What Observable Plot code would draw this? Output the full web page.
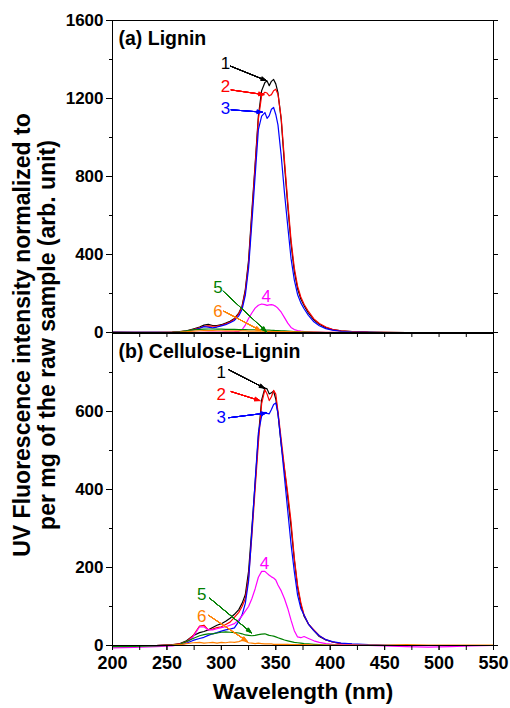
<!DOCTYPE html>
<html><head><meta charset="utf-8">
<script src="https://cdn.jsdelivr.net/npm/d3@7"></script>
<script src="https://cdn.jsdelivr.net/npm/@observablehq/plot@0.6"></script>
<style>
body{margin:0;background:white;}
#wrap{position:relative;width:510px;height:708px;overflow:hidden;background:white;font-family:Arial,"Liberation Sans",sans-serif;}
#wrap svg{position:absolute;left:0;}
#ylab{position:absolute;left:35px;top:335px;transform:translate(-50%,-50%) rotate(-90deg);white-space:nowrap;text-align:center;font-weight:bold;font-size:23px;line-height:25px;color:#000;}
</style></head>
<body><div id="wrap"><div id="ylab">UV Fluorescence intensity normalized to<br>per mg of the raw sample (arb. unit)</div></div>
<script>
// Wavelength grid (nm)
const wl = [200,220,240,255,262, 268,274,280,284,288, 292,296,300,304,308, 312,316,319,322,325,
            328,331,334,337,340, 342,344,346,348,350, 352,355,358,361,364, 367,370,373,376,380,
            385,390,396,402,410, 420,435,450,470,490, 510,530,550];

// (a) Lignin
const a1 = [2,1,1,2,5, 8,18,28,38,42, 36,36,40,48,58, 72,100,135,220,370,
            620,860,1110,1240,1282, 1290,1266,1288,1298,1275, 1230,1090,860,650,455, 315,225,172,138,100,
            65,42,25,15,8, 4,2,1,0,0, 0,0,0];
const a2 = [1,1,1,2,4, 7,15,24,32,34, 32,33,37,44,54, 68,96,130,210,355,
            600,850,1095,1215,1232, 1228,1214,1220,1240,1248, 1222,1100,880,670,475, 332,238,182,145,108,
            70,46,28,16,9, 5,2,1,0,0, 0,0,0];
const a3 = [1,1,1,1,3, 6,13,22,30,28, 24,28,34,40,50, 62,85,118,190,330,
            560,800,1040,1110,1128, 1098,1112,1145,1154,1118, 1065,905,715,545,380, 270,195,152,122,88,
            55,35,20,12,6, 3,1,0,0,0, 0,0,0];
const a4 = [0,0,0,0,0, 0,1,1,1,2, 2,2,2,3,3, 4,6,14,38,72,
            100,125,140,146,143, 139,142,143,140,134, 124,104,76,48,26, 15,10,7,5,4,
            3,2,1,1,0, 0,0,0,0,0, 0,0,0];
const a5 = [0,0,0,1,3, 8,13,16,17,18, 18,17,17,16,16, 16,15,15,15,14,
            14,14,13,13,12, 12,12,11,11,10, 10,9,8,7,6, 5,4,3,3,2,
            1,1,0,0,0, 0,0,0,0,0, 0,0,0];
const a6 = [0,0,0,1,2, 4,7,9,10,10, 10,9,9,8,8, 8,8,8,8,7,
            7,7,7,7,6, 6,6,6,5,5, 5,5,4,4,4, 3,3,3,2,2,
            2,1,1,1,1, 1,0,0,0,0, 0,0,0];

// (b) Cellulose-Lignin
const b1 = [0,0,0,2,5, 12,25,33,36,40, 46,52,56,62,70, 80,92,108,130,190,
            300,415,535,630,660, 658,645,648,652,632, 595,515,450,380,305, 220,150,105,75,55,
            38,23,14,9,5, 3,1,0,0,0, 0,0,0];
const b2 = [0,0,0,2,4, 10,25,50,52,40, 42,46,48,54,60, 72,85,100,120,175,
            280,400,520,620,656, 645,628,638,654,645, 600,528,455,390,318, 225,155,110,78,55,
            40,25,15,9,5, 3,1,0,0,0, 0,0,0];
const b3 = [0,0,0,1,2, 6,13,18,21,26, 30,33,37,40,42, 45,62,78,108,165,
            290,420,545,588,598, 595,594,605,618,622, 595,515,430,345,260, 190,130,95,78,55,
            38,25,15,10,6, 4,2,1,0,0, 0,0,0];
const b4 = [-6,-5,-3,-1,3, 8,22,48,48,40, 40,43,46,48,52, 56,66,76,88,100,
            120,145,175,190,190, 185,180,176,173,168, 155,140,120,95,65, 38,22,20,23,18,
            12,8,5,3,2, 1,0,-1,-3,-4, -3,-1,0];
const b5 = [-3,-2,-1,1,3, 10,18,25,28,30, 30,32,34,35,34, 33,32,30,27,26,
            25,26,28,29,30, 28,26,25,24,22, 20,17,14,12,10, 8,7,6,5,4,
            3,2,1,1,0, 0,0,0,0,0, 0,0,0];
const b6 = [0,0,0,1,2, 5,7,8,6,7, 8,6,8,7,9, 8,10,13,11,7,
            6,5,6,5,4, 4,4,4,3,3, 3,3,3,3,2, 2,2,2,2,2,
            1,1,1,1,1, 1,1,1,2,1, 1,1,1];

const seriesColors = ["#000000","#ff0000","#0000ff","#ff00ff","#008000","#ff8000"];
const annLabels = ["1","2","3","4","5","6"];

// Annotations (data units): text position and arrow start/end
const annA_tx = [303.8,303.8,303.8,341.2,296.8,296.8];
const annA_ty = [1380,1262,1147,185,229,109];
const annA_x1 = [308.4,309,309,null,301.7,302.3];
const annA_y1 = [1366,1244,1142,null,212,109];
const annA_x2 = [341.2,339,337.5,null,341.2,336];
const annA_y2 = [1292,1220,1130,null,5,10];

const annB_tx = [299.8,299.8,299.8,339.6,282,282];
const annB_ty = [701,644,584,211,131,74];
const annB_x1 = [306.8,309,306.8,null,289.4,288.5];
const annB_y1 = [707,651,584,null,121,77];
const annB_x2 = [339.6,335.3,341.2,null,327.5,323.7];
const annB_y2 = [660,628,596,null,33,11];

const xMajor = [200,250,300,350,400,450,500,550];
const xMinor = d3.range(200, 551, 25);
const yMajorA = [0,400,800,1200,1600];
const yMinorA = [200,600,1000,1400];
const yMajorB = [0,200,400,600];
const yMinorB = [100,300,500,700];

function annRows(tx, ty, x1, y1, x2, y2) {
  return annLabels.map((label, i) => ({label, color: seriesColors[i], tx: tx[i], ty: ty[i], x1: x1[i], y1: y1[i], x2: x2[i], y2: y2[i]}));
}

function panel(opts) {
  const {series, yDomain, yMajor, yMinor, ann, title, height, marginBottom, showX} = opts;
  const marks = [];
  series.forEach((vals, i) => {
    marks.push(Plot.line(vals.map((v, j) => ({wl: wl[j], v})), {x: "wl", y: "v", stroke: seriesColors[i], strokeWidth: 1.2}));
  });
  marks.push(Plot.frame({stroke: "black", strokeWidth: 1}));
  marks.push(Plot.axisY({ticks: yMajor, tickSize: 6, tickPadding: 3, tickFormat: d3.format("d"), fontSize: 17, fontWeight: "bold", label: null}));
  marks.push(Plot.axisY({ticks: yMinor, tickSize: 3, tickFormat: () => "", label: null}));
  marks.push(Plot.axisY({ticks: yMajor.concat(yMinor), anchor: "right", tickSize: 4, tickFormat: () => "", label: null}));
  marks.push(Plot.axisX({ticks: xMinor, tickSize: 5, tickFormat: () => "", label: null}));
  if (showX) {
    marks.push(Plot.axisX({ticks: xMajor, tickSize: 5, tickPadding: 6, tickFormat: d3.format("d"), fontSize: 18, fontWeight: "bold", label: null}));
    marks.push(Plot.text(["Wavelength (nm)"], {text: d => d, frameAnchor: "bottom", dy: 53, lineAnchor: "bottom", fontSize: 22.5, fontWeight: "bold"}));
  }
  const arrows = ann.filter(d => d.x1 != null);
  // layered heads give a filled arrowhead
  [42, 34, 26, 18, 10, 3].forEach((angle) => {
    marks.push(Plot.arrow(arrows, {x1: "x1", y1: "y1", x2: "x2", y2: "y2", stroke: "color", strokeWidth: 1, headLength: 8, headAngle: angle}));
  });
  marks.push(Plot.text(ann, {x: "tx", y: "ty", text: "label", fill: "color", fontSize: 17, fontWeight: "normal", textAnchor: "middle", lineAnchor: "middle"}));
  marks.push(Plot.text([title], {text: d => d, frameAnchor: "top-left", dx: 6, dy: 11, lineAnchor: "top", textAnchor: "start", fontSize: 19.5, fontWeight: "bold"}));
  return Plot.plot({
    width: 510, height, marginLeft: 112, marginRight: 17, marginTop: 20, marginBottom,
    x: {domain: [200, 550], label: null},
    y: {domain: yDomain, label: null},
    color: {type: "identity"},
    style: {fontFamily: "Arial, 'Liberation Sans', sans-serif", color: "black", background: "none", overflow: "visible"},
    marks
  });
}

const wrap = document.getElementById("wrap");
const bottomPlot = panel({series: [b1,b2,b3,b4,b5,b6], yDomain: [0, 800], yMajor: yMajorB, yMinor: yMinorB,
  ann: annRows(annB_tx, annB_ty, annB_x1, annB_y1, annB_x2, annB_y2), title: "(b) Cellulose-Lignin", height: 395, marginBottom: 63, showX: true});
bottomPlot.style.top = "313px";
wrap.appendChild(bottomPlot);
const topPlot = panel({series: [a1,a2,a3,a4,a5,a6], yDomain: [0, 1600], yMajor: yMajorA, yMinor: yMinorA,
  ann: annRows(annA_tx, annA_ty, annA_x1, annA_y1, annA_x2, annA_y2), title: "(a) Lignin", height: 345, marginBottom: 13, showX: false});
topPlot.style.top = "0px";
wrap.appendChild(topPlot);
</script>
</body></html>
